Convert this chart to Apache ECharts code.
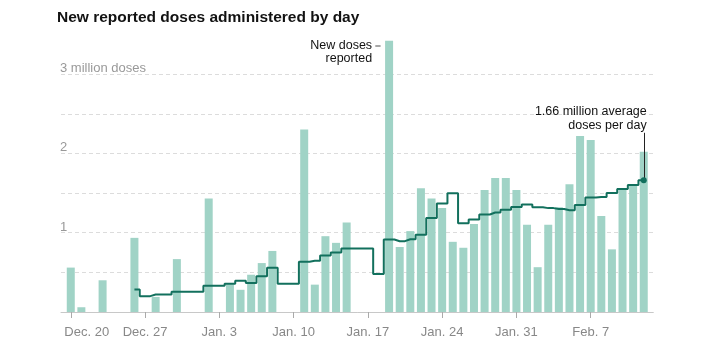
<!DOCTYPE html>
<html><head><meta charset="utf-8">
<script src="https://cdn.jsdelivr.net/npm/echarts@6/dist/echarts.min.js"></script>
<style>html,body{margin:0;padding:0;background:#fff}#c{width:707px;height:346px}</style>
</head><body><div id="c"></div>
<script>
// Days: index 0 = Dec. 20 ... index 54 = Feb. 12
const dates = ['Dec. 20','Dec. 21','Dec. 22','Dec. 23','Dec. 24','Dec. 25','Dec. 26','Dec. 27','Dec. 28','Dec. 29','Dec. 30','Dec. 31',
  'Jan. 1','Jan. 2','Jan. 3','Jan. 4','Jan. 5','Jan. 6','Jan. 7','Jan. 8','Jan. 9','Jan. 10','Jan. 11','Jan. 12','Jan. 13','Jan. 14','Jan. 15',
  'Jan. 16','Jan. 17','Jan. 18','Jan. 19','Jan. 20','Jan. 21','Jan. 22','Jan. 23','Jan. 24','Jan. 25','Jan. 26','Jan. 27','Jan. 28','Jan. 29',
  'Jan. 30','Jan. 31','Feb. 1','Feb. 2','Feb. 3','Feb. 4','Feb. 5','Feb. 6','Feb. 7','Feb. 8','Feb. 9','Feb. 10','Feb. 11','Feb. 12'];
// New reported doses, millions (null = no report)
const doses = [0.56,0.06,null,0.40,null,null,0.935,null,0.19,null,0.667,null,
  null,1.43,null,0.35,0.28,0.47,0.617,0.77,null,null,2.30,0.345,0.956,0.872,1.13,
  null,null,null,3.42,0.82,1.02,1.56,1.43,1.31,0.885,0.81,1.11,1.54,1.69,
  1.69,1.54,1.10,0.565,1.10,1.32,1.61,2.22,2.17,1.21,0.79,1.55,1.59,2.02];
// 7-day average, millions
const avg7 = [null,null,null,null,null,null,0.285,0.20,0.22,0.22,0.255,0.255,
  0.255,0.33,0.33,0.356,0.394,0.365,0.45,0.557,0.356,0.356,0.633,0.645,0.713,0.75,0.80,
  0.80,0.80,0.478,0.915,0.893,0.918,0.973,1.186,1.367,1.497,1.12,1.166,1.23,1.254,
  1.29,1.325,1.355,1.32,1.31,1.30,1.283,1.35,1.443,1.45,1.50,1.55,1.60,1.66];
const xTickIdx = [0,7,14,21,28,35,42,49];
const xTickLabels = ['Dec. 20','Dec. 27','Jan. 3','Jan. 10','Jan. 17','Jan. 24','Jan. 31','Feb. 7'];
const yTickVals = [1,2,3];
const yTickLabels = ['1','2','3 million doses'];
const titleText = 'New reported doses administered by day';
const peakNote = 'New doses\nreported';
const avgNote = '1.66 million average\ndoses per day';

const FONT = "'Liberation Sans', Arial, sans-serif";
const barData = [];
doses.forEach((v,i)=>{ if (v!=null) barData.push([i,v]); });
const lineData = [];
avg7.forEach((v,i)=>{ if (v!=null) lineData.push([i,v]); });
const lastPt = lineData[lineData.length - 1];
let peakIdx = 0; doses.forEach((v,i)=>{ if (v!=null && v>doses[peakIdx]) peakIdx=i; });

const chart = echarts.init(document.getElementById('c'), null, {renderer:'canvas'});
chart.setOption({
  animation:false,
  backgroundColor:'#fff',
  title:{text:titleText,left:57,top:10,padding:0,textStyle:{fontFamily:FONT,fontSize:15.5,fontWeight:'bold',color:'#121212'}},
  grid:{left:61,right:53.7,top:34.45,bottom:34},
  xAxis:{
    type:'value',min:-0.92,max:54.9,
    splitLine:{show:false},
    axisLine:{lineStyle:{color:'#c8c8c8',width:1}},
    axisTick:{show:true,customValues:xTickIdx,length:6,lineStyle:{color:'#aaa'}},
    axisLabel:{customValues:xTickIdx,margin:14,fontFamily:FONT,fontSize:13,color:'#888',
      formatter:(v)=>{const k=xTickIdx.indexOf(Math.round(v)); if(k<0) return ''; return k===0?'{f|'+xTickLabels[k]+'}':xTickLabels[k];},
      rich:{f:{padding:[0,0,0,32],fontFamily:FONT,fontSize:13,color:'#888'}}}
  },
  yAxis:{
    type:'value',min:0,max:3.5,interval:0.5,
    axisLine:{show:false},axisTick:{show:false},
    splitLine:{show:true,showMinLine:false,showMaxLine:false,lineStyle:{color:'#dcdcdc',type:[4,3],width:1}},
    axisLabel:{inside:true,margin:-1,verticalAlign:'bottom',lineHeight:11,fontFamily:FONT,fontSize:13,color:'#999',
      formatter:(v)=>{const k=yTickVals.indexOf(v); return k<0?'':yTickLabels[k];}}
  },
  series:[
    {type:'bar',data:barData,barWidth:8,itemStyle:{color:'#a0d3c6'},silent:true,z:2,
      markPoint:{symbol:'circle',symbolSize:0,silent:true,
        data:[{coord:[peakIdx,doses[peakIdx]],label:{show:true,formatter:peakNote,position:'inside',align:'right',verticalAlign:'top',
          offset:[-17,-2],fontFamily:FONT,fontSize:12.5,lineHeight:13.5,color:'#121212'}}]},
      markLine:{silent:true,symbol:['none','none'],label:{show:false},lineStyle:{color:'#888',type:'solid',width:1.5},
        data:[[{coord:[peakIdx-1.3,3.36]},{coord:[peakIdx-0.8,3.36]}]]}
    },
    {type:'line',data:lineData,step:'middle',symbol:'none',z:3,silent:true,
      lineStyle:{color:'#12705d',width:2},
      markPoint:{silent:true,symbol:'circle',symbolSize:0,
        data:[
          {coord:[lastPt[0],2.26],label:{show:true,formatter:avgNote,position:'inside',align:'right',verticalAlign:'bottom',
            offset:[3,-1],fontFamily:FONT,fontSize:12.5,lineHeight:13.3,color:'#121212'}},
          {coord:lastPt,symbolSize:6,itemStyle:{color:'#12705d'},label:{show:false}}
        ]},
      markLine:{silent:true,symbol:['none','none'],label:{show:false},lineStyle:{color:'#222',type:'solid',width:1},
        data:[[{coord:lastPt},{coord:[lastPt[0],2.26]}]]}
    }
  ]
});
</script></body></html>
